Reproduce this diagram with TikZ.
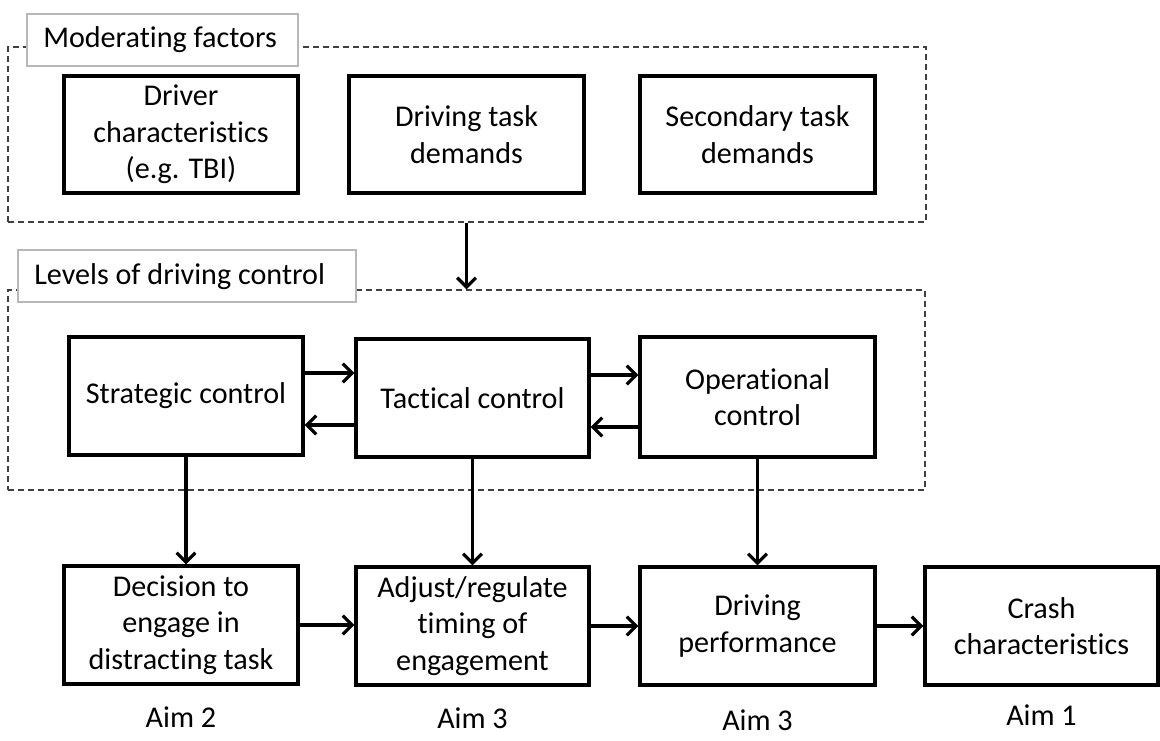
\documentclass[tikz,border=0pt]{standalone}
\usepackage{fontspec}
\setmainfont{Carlito}[RawFeature={-liga;-clig;-calt;-dlig}]
\usetikzlibrary{arrows.meta,calc}
\begin{document}
\begin{tikzpicture}[x=0.75pt,y=-0.75pt,
  txt/.style={font=\fontsize{22.6}{27.5}\selectfont},
  bx/.style 2 args={draw=black,line width=2.5pt,rectangle,align=center,
     minimum width=#1*0.75pt,minimum height=#2*0.75pt,inner sep=0pt,txt},
  grp/.style 2 args={draw=black!75,line width=1.1pt,dash pattern=on 4.5pt off 3pt,
     rectangle,minimum width=#1*0.75pt,minimum height=#2*0.75pt,inner sep=0pt},
  lbl/.style 2 args={draw=black!28,line width=0.8pt,fill=white,rectangle,
     minimum width=#1*0.75pt,minimum height=#2*0.75pt,inner sep=0pt},
  ltxt/.style={anchor=west,inner sep=0pt,txt},
  arr/.style={line width=2.4pt,-{Straight Barb[length=7pt,width=14pt,line width=2.4pt]}},
  aim/.style={inner sep=0pt,txt}]
\useasboundingbox (0,0) rectangle (1160,740);
% group boxes
\node[grp={918}{175}] (mod) at (467,134.5) {};
\node[grp={917}{200}] (lev) at (466.5,390) {};
\node[lbl={271}{52}] (modl) at (162.5,40) {};
\node[ltxt] (modt) at (43,40) {Moderating factors};
\node[lbl={338}{52}] (levl) at (187,276) {};
\node[ltxt] (levt) at (34,277) {Levels of driving control};
% moderating factors
\node[bx={234}{117}] (drv) at (181,134.5) {Driver\\characteristics\\(e.g. TBI)};
\node[bx={235}{117}] (dtd) at (466.5,134.5) {Driving task\\demands};
\node[bx={235}{117}] (std) at (757.5,134.5) {Secondary task\\demands};
% levels
\node[bx={234}{118}] (stra) at (186,396) {Strategic control};
\node[bx={233}{118}] (tact) at (472.5,398) {Tactical control};
\node[bx={235}{120}] (oper) at (757.5,397) {Operational\\control};
% bottom row
\node[bx={234}{118}] (dec) at (181,625) {Decision to\\engage in\\distracting task};
\node[bx={233}{118}] (adj) at (472.5,626) {Adjust/regulate\\timing of\\engagement};
\node[bx={235}{118}] (perf) at (757.5,626) {Driving\\performance};
\node[bx={233}{118}] (crash) at (1041.5,626) {Crash\\characteristics};
% aims
\node[aim] (a2) at (181,717) {Aim 2};
\node[aim] (a3a) at (472.5,718) {Aim 3};
\node[aim] (a3b) at (757.5,720) {Aim 3};
\node[aim] (a1) at (1041.5,715) {Aim 1};
% arrows
\draw[arr] (lev.north |- mod.south) -- (lev.north);
\draw[arr] (stra.east |- 0,373) -- (tact.west |- 0,373);
\draw[arr] (tact.west |- 0,425) -- (stra.east |- 0,425);
\draw[arr] (tact.east |- 0,375) -- (oper.west |- 0,375);
\draw[arr] (oper.west |- 0,427) -- (tact.east |- 0,427);
\draw[arr] (stra.south) -- (stra.south |- dec.north);
\draw[arr] (tact.south) -- (tact.south |- adj.north);
\draw[arr] (oper.south) -- (oper.south |- perf.north);
\draw[arr] (dec.east) -- (dec.east -| adj.west);
\draw[arr] (adj.east) -- (adj.east -| perf.west);
\draw[arr] (perf.east) -- (perf.east -| crash.west);
\end{tikzpicture}
\end{document}
